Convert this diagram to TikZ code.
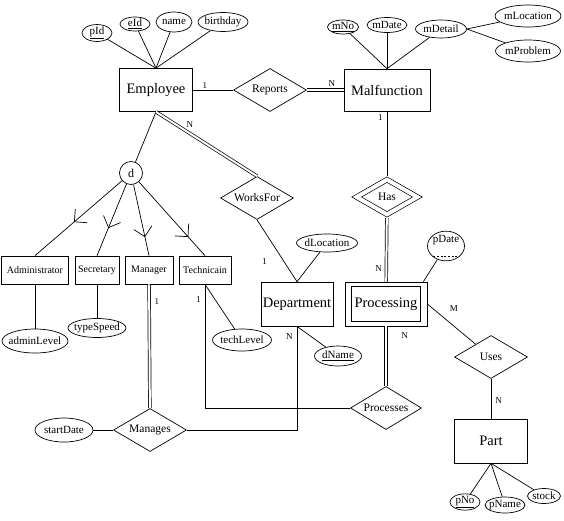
\documentclass[tikz,border=0pt]{standalone}
\usepackage{fontspec}
\setmainfont{Liberation Serif}
\usetikzlibrary{shapes.geometric}
\usetikzlibrary{calc}
\newcommand{\dashunder}[1]{\setbox0\hbox{#1}\vtop{\copy0\kern0.8pt\hbox to\wd0{\xleaders\hbox{\vrule width 2pt height 0.4pt\kern1.5pt}\hfill}}}

\begin{document}
\begin{tikzpicture}[x=1pt, y=-1pt, line width=0.7pt,
        entity/.style={draw, rectangle, inner sep=0pt, font=\fontsize{14.5}{16}\selectfont},
        subclass/.style={entity, minimum height=28pt, font=\fontsize{10}{12}\selectfont},
        attr/.style={draw, ellipse, inner xsep=-3pt, inner ysep=0pt, font=\fontsize{11}{13}\selectfont},
        rel/.style={draw, diamond, aspect=1.7, inner sep=0pt, minimum width=73pt, minimum height=43pt, font=\fontsize{11.5}{13}\selectfont},
        idrel/.style={rel, double, double distance=4pt, outer sep=2.7pt, minimum width=63pt, minimum height=37pt},
        total/.style={double, double distance=2pt},
        card/.style={font=\fontsize{9}{10}\selectfont, inner sep=1pt}]
        \useasboundingbox (0,0) rectangle (564,520);

        \node [entity, minimum width=73pt, minimum height=43pt] (emp) at (156,90) {Employee};
        \node [entity, minimum width=86pt, minimum height=42pt] (mal) at (387,90) {Malfunction};
        \node [entity, minimum width=72pt, minimum height=44pt] (dept) at (297,304) {Department};
        \node [entity, minimum width=82pt, minimum height=44pt] (proc) at (386,304) {Processing};
        \draw ([shift={(7,5)}]proc.north west) rectangle ([shift={(-7,-5)}]proc.south east);
        \node [entity, minimum width=73pt, minimum height=44pt] (part) at (491,441) {Part};

        \node [subclass, minimum width=67pt] (admin) at (35,270) {Administrator};
        \node [subclass, minimum width=44pt] (sec) at (97,270) {Secretary};
        \node [subclass, minimum width=48pt] (mgr) at (149,270) {Manager};
        \node [subclass, minimum width=52pt] (tech) at (205,270) {Technicain};
        \node [draw, circle, inner sep=0pt, minimum size=23pt, font=\fontsize{12}{14}\selectfont] (d) at (131,173) {d};

        \node [rel] (rep) at (270,90) {Reports};
        \node [rel] (wf) at (257,198) {WorksFor};
        \node [idrel] (has) at (387,197) {Has};
        \node [rel] (uses) at (491,357) {Uses};
        \node [rel, minimum width=71pt] (procs) at (386,408) {Processes};
        \node [rel] (mgs) at (150,430) {Manages};

        \node [attr, minimum width=30pt, minimum height=14pt] (pid) at (97,33) {\underline{pId}};
        \node [attr, minimum width=30pt, minimum height=14pt] (eid) at (135,24) {\underline{eId}};
        \node [attr, minimum width=36pt, minimum height=20pt] (name) at (174,22) {name};
        \node [attr, minimum width=50pt, minimum height=19pt] (bday) at (223,22) {birthday};
        \node [attr, minimum width=31pt, minimum height=14pt] (mno) at (343,27) {\underline{mNo}};
        \node [attr, minimum width=40pt, minimum height=15pt] (mdate) at (387,25) {mDate};
        \node [attr, minimum width=51pt, minimum height=18pt] (mdetail) at (441,29) {mDetail};
        \node [attr, minimum width=66pt, minimum height=22pt] (mloc) at (528,16) {mLocation};
        \node [attr, minimum width=65pt, minimum height=22pt] (mprob) at (528,51) {mProblem};
        \node [attr, minimum width=66pt, minimum height=24pt] (adminlvl) at (35,341) {adminLevel};
        \node [attr, minimum width=58pt, minimum height=19pt] (typespd) at (97,328) {typeSpeed};
        \node [attr, minimum width=59pt, minimum height=22pt] (techlvl) at (242,340) {techLevel};
        \node [attr, minimum width=61pt, minimum height=18pt] (dloc) at (327,243) {dLocation};
        \node [attr, minimum width=47pt, minimum height=20pt] (dname) at (338,356) {\underline{dName}};
        \node [attr, minimum width=37pt, minimum height=19pt] (pdate) at (446,246) {\dashunder{pDate}};
        \node [attr, minimum width=58pt, minimum height=24pt] (sdate) at (64,430) {startDate};
        \node [attr, minimum width=30pt, minimum height=14pt] (pno) at (465,502) {\underline{pNo}};
        \node [attr, minimum width=40pt, minimum height=16pt] (pname) at (505,505) {pName};
        \node [attr, minimum width=33pt, minimum height=15pt] (stock) at (544,496) {stock};

        \foreach \a in {pid,eid,name,bday} \draw (\a) -- (emp.north);
        \foreach \a in {mno,mdate,mdetail} \draw (\a) -- (mal.north);
        \draw (mdetail.east) -- (mloc);
        \draw (mdetail.east) -- (mprob);
        \draw (emp) -- node [card, pos=.3, above] {1} (rep);
        \draw [total] (rep) -- node [card, pos=.68, above=2pt] {N} (mal);

        \draw (emp.south) -- (d);
        \draw [total] (emp.south) -- node [card, pos=.2, right=9pt] {N} (wf.north);
        \foreach \s/\f in {admin/.59, sec/.66, mgr/.77, tech/.77} {
            \draw (d) -- (\s.north);
            \coordinate (v) at ($(d)!\f!(\s.north)$);
            \draw ($(v)!13pt!45:(d)$) -- (v) -- ($(v)!13pt!-45:(d)$);
        }
        \draw (admin) -- (adminlvl);
        \draw (sec) -- (typespd);
        \draw (tech.south) -- (techlvl);
        \draw [total] (mgr) -- node [card, pos=.14, right=4pt] {1} (mgs);
        \draw (sdate) -- (mgs);
        \draw (mgs.east) -| node [card, pos=.95, left=3pt] {N} (dept.south);
        \draw (procs.west) -| node [card, pos=.94, left=3pt] {1} (tech.south);

        \draw (wf.south) -- node [card, pos=.68, left=16pt] {1} (dept.north);
        \draw (dloc) -- (dept.north);
        \draw (dept.south) -- (dname);

        \draw (mal) -- node [card, pos=.1, left=3pt] {1} (has);
        \draw [total] (has) -- node [card, pos=.8, left=3pt] {N} (proc);
        \draw [total] (proc) -- node [card, pos=.15, right=14pt] {N} (procs);
        \draw (pdate) -- ([xshift=-4pt]proc.north east);
        \draw (proc.east) -- node [card, pos=.55, above=13pt] {M} (uses);
        \draw (uses) -- node [card, pos=.55, right=3pt] {N} (part);
        \foreach \a in {pno,pname,stock} \draw (part.south) -- (\a);
    \end{tikzpicture}
\end{document}
